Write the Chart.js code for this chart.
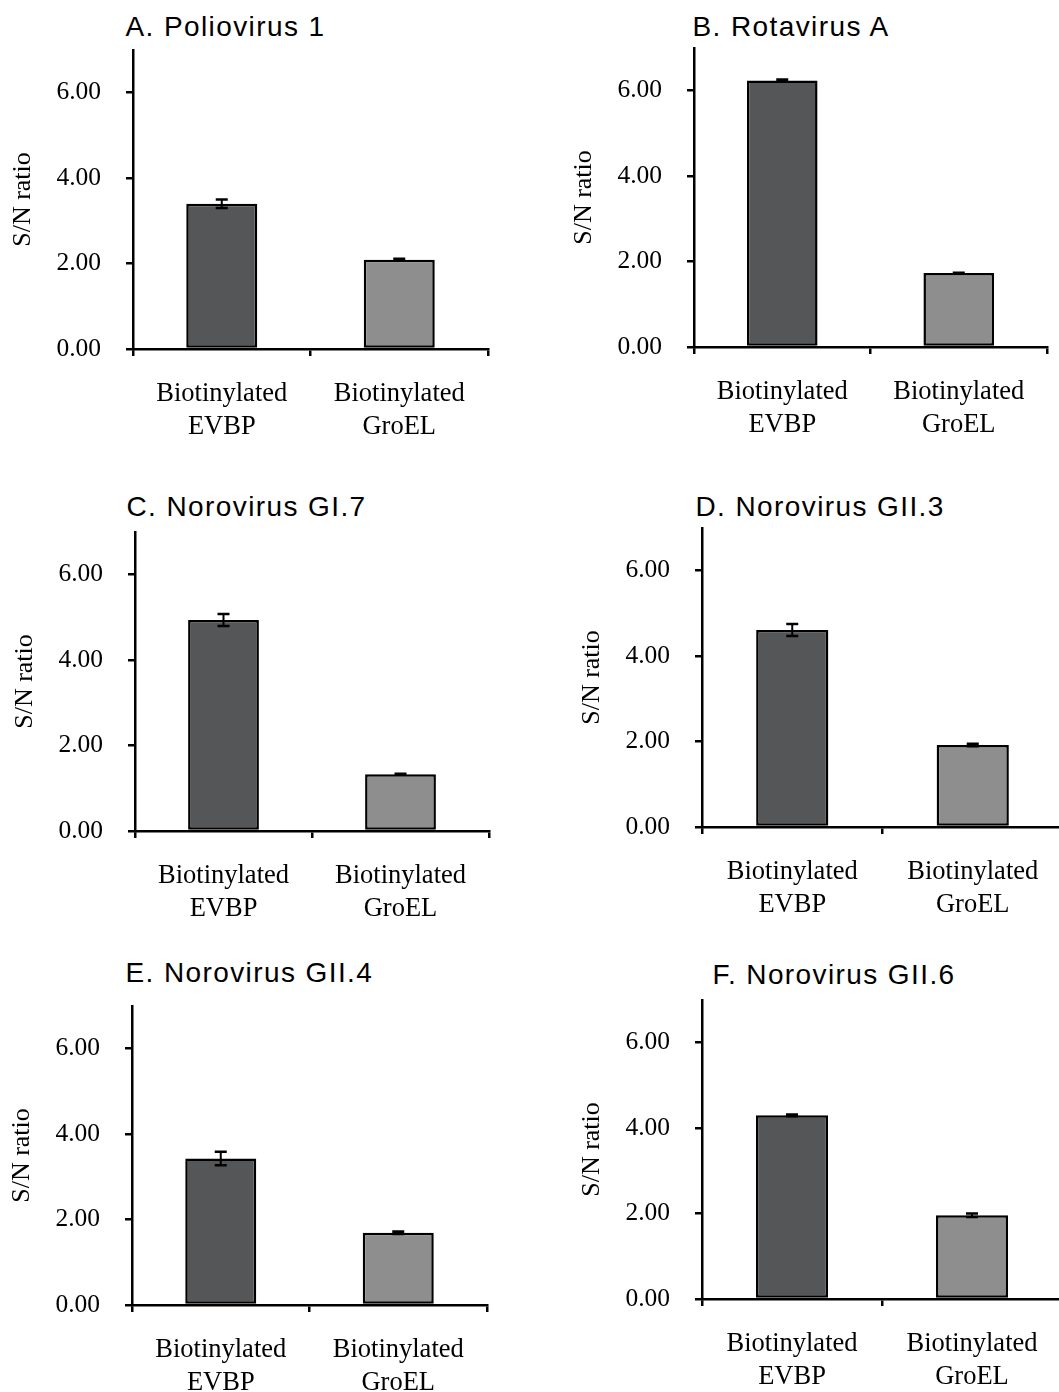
<!DOCTYPE html>
<html><head><meta charset="utf-8">
<script src="https://cdn.jsdelivr.net/npm/chart.js@4.4.1/dist/chart.umd.min.js"></script>
<style>
html,body{margin:0;padding:0;background:#fff;overflow:hidden}
#wrap{position:relative;width:1059px;height:1392px;overflow:hidden;background:#fff}
.t{position:absolute;font-family:"Liberation Sans",Arial,sans-serif;font-size:28px;line-height:28px;letter-spacing:1.4px;color:#000;white-space:nowrap}
canvas{position:absolute}
</style></head><body>
<div id="wrap"></div>
<script>
// ---- data ----
const categories = [['Biotinylated', 'EVBP'], ['Biotinylated', 'GroEL']];
const panelTitles = ['A. Poliovirus 1', 'B. Rotavirus A', 'C. Norovirus GI.7', 'D. Norovirus GII.3', 'E. Norovirus GII.4', 'F. Norovirus GII.6'];
const evbpValues  = [3.40, 6.24, 4.94, 4.61, 3.43, 4.30];
const evbpErrors  = [0.10, 0.02, 0.14, 0.14, 0.16, 0.02];
const groelValues = [2.09, 1.73, 1.33, 1.92, 1.69, 1.96];
const groelErrors = [0.02, 0.01, 0.01, 0.03, 0.03, 0.04];
const yTickValues = [0, 2, 4, 6];
const yAxisMax = 7;
const yAxisTitle = 'S/N ratio';

// ---- layout (pixel geometry of each panel) ----
const layout = [
  {axisX: 133, zero: 349, right: 488, titleX: 126, titleBase: 37},
  {axisX: 694, zero: 347, right: 1047, titleX: 693, titleBase: 37},
  {axisX: 135, zero: 831, right: 489, titleX: 127, titleBase: 517},
  {axisX: 702, zero: 827, right: 1063, titleX: 696, titleBase: 517},
  {axisX: 132, zero: 1305, right: 487, titleX: 126, titleBase: 983},
  {axisX: 702, zero: 1299, right: 1062, titleX: 713, titleBase: 985}
];
const plotH = 299, yScaleW = 132, topPad = 10, xScaleH = 110, rightPad = 6;

const errorBarPlugin = {
  id: 'errorBars',
  afterDatasetsDraw(chart) {
    const ctx = chart.ctx, yScale = chart.scales.y;
    chart.data.datasets.forEach((ds, di) => {
      const meta = chart.getDatasetMeta(di);
      meta.data.forEach((bar, i) => {
        const v = ds.data[i], e = ds.errors[i];
        const x = bar.x;
        const yHi = yScale.getPixelForValue(v + e);
        const yLo = yScale.getPixelForValue(v - e);
        ctx.save();
        ctx.strokeStyle = '#000';
        ctx.lineWidth = 2;
        ctx.beginPath();
        ctx.moveTo(x, yHi); ctx.lineTo(x, yLo);
        ctx.stroke();
        ctx.lineWidth = 2.5;
        ctx.beginPath();
        ctx.moveTo(x - 6, yHi); ctx.lineTo(x + 6, yHi);
        ctx.moveTo(x - 6, yLo); ctx.lineTo(x + 6, yLo);
        ctx.stroke();
        ctx.restore();
      });
    });
  }
};

const wrap = document.getElementById('wrap');
layout.forEach((L, p) => {
  const title = document.createElement('div');
  title.className = 't';
  title.textContent = panelTitles[p];
  title.style.left = (L.titleX - 0.5) + 'px';
  title.style.top = (L.titleBase - 23.7) + 'px';
  wrap.appendChild(title);

  const left = L.axisX - yScaleW;
  const top = L.zero - plotH - topPad;
  const width = L.right - left + rightPad;
  const height = plotH + topPad + xScaleH;
  const cv = document.createElement('canvas');
  cv.width = width; cv.height = height;
  cv.style.left = left + 'px'; cv.style.top = top + 'px';
  cv.style.width = width + 'px'; cv.style.height = height + 'px';
  wrap.appendChild(cv);

  new Chart(cv, {
    type: 'bar',
    data: {
      labels: categories,
      datasets: [{
        data: [evbpValues[p], groelValues[p]],
        errors: [evbpErrors[p], groelErrors[p]],
        backgroundColor: ['#555658', '#8e8e8e'],
        borderColor: '#000',
        borderWidth: 2.5,
        borderSkipped: false,
        barPercentage: 0.4,
        categoryPercentage: 1.0
      }]
    },
    options: {
      responsive: false,
      animation: false,
      devicePixelRatio: 1,
      layout: {padding: {top: topPad, right: rightPad, left: 0, bottom: 0}},
      plugins: {legend: {display: false}, tooltip: {enabled: false}, title: {display: false}},
      scales: {
        x: {
          type: 'category',
          offset: true,
          grid: {display: true, offset: true, drawOnChartArea: false, drawTicks: true, tickLength: 7, color: '#000', lineWidth: 2.5},
          border: {display: true, color: '#000', width: 2.5},
          ticks: {color: '#000', padding: 21, maxRotation: 0, autoSkip: false,
                  font: {family: '"Liberation Serif","Times New Roman",serif', size: 26.5, lineHeight: 1.25}},
          afterFit(s) { s.height = xScaleH; s.paddingLeft = 0; s.paddingRight = 0; }
        },
        y: {
          min: 0, max: yAxisMax,
          grid: {display: true, drawOnChartArea: false, drawTicks: true, tickLength: 7, color: '#000', lineWidth: 2.5},
          border: {display: true, color: '#000', width: 2.5},
          afterBuildTicks(s) { s.ticks = yTickValues.map(v => ({value: v})); },
          ticks: {color: '#000', padding: 25, includeBounds: false,
                  callback: v => Number(v).toFixed(2),
                  font: {family: '"Liberation Serif","Times New Roman",serif', size: 25.5}},
          title: {display: true, text: yAxisTitle, color: '#000', padding: {top: 7, bottom: 0},
                  font: {family: '"Liberation Serif","Times New Roman",serif', size: 26, lineHeight: 1.2}},
          afterFit(s) { s.width = yScaleW; s.paddingTop = 0; s.paddingBottom = 0; }
        }
      }
    },
    plugins: [errorBarPlugin]
  });
});
</script>
</body></html>
